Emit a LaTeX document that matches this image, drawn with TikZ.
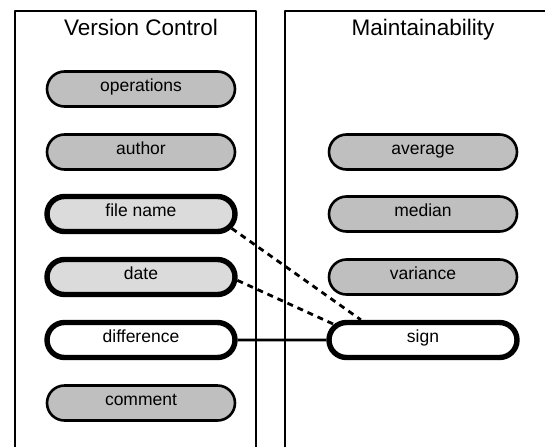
\documentclass[tikz,border=0pt]{standalone}
\usepackage{fontspec}
\setmainfont{Liberation Sans}
\usepackage{tikz}
\usetikzlibrary{shapes.misc}
\usetikzlibrary{positioning}

\tikzset{
  pill/.style={rounded rectangle, draw=black, minimum width=188pt,
    minimum height=35pt, inner sep=0pt, text height=12.5pt, text depth=8pt,
    font=\fontsize{17.5}{20}\selectfont},
  plain/.style={pill, fill=gray!50, line width=2.6pt},
  keyed/.style={pill, fill=gray!28, line width=5.4pt},
  linked/.style={pill, fill=white, line width=5.4pt},
  title/.style={anchor=base, font=\fontsize{22.5}{26}\selectfont},
  link/.style={line width=2.8pt},
  maybe/.style={link, dash pattern=on 6pt off 5pt}
}

\begin{document}
\begin{tikzpicture}[x=1pt, y=-1pt, line join=round]
    \useasboundingbox (0,0) rectangle (545,447);

    % columns
    \draw [line width=2.5pt] (15,447) -- (15,11) -- (256,11) -- (256,447);
    \draw [line width=2.5pt] (285,447) -- (285,11) -- (545,11);
    \node [title] (vc) at (141,35) {Version Control};
    \node [title] (mt) at (423,35) {Maintainability};

    % version control fields
    \node [plain] (ops) at (141,89) {operations};
    \node [plain] (author) at (141,152) {author};
    \node [keyed] (fname) at (141,214) {file name};
    \node [keyed] (date) at (141,277) {date};
    \node [linked] (diff) at (141,340) {difference};
    \node [plain] (comment) at (141,403) {comment};

    % metrics
    \foreach \name/\txt/\y in {avg/average/152, median/median/214,
                               variance/variance/277} {
      \node [plain] (\name) at (423,\y) {\txt};
    }
    \node [linked] (sign) at (423,340) {sign};

    % links
    \draw [link] (diff) -- (sign);
    \draw [maybe] (fname.-9) -- (sign.162);
    \draw [maybe] (date.-2) -- (sign.170);

  \end{tikzpicture}
\end{document}
